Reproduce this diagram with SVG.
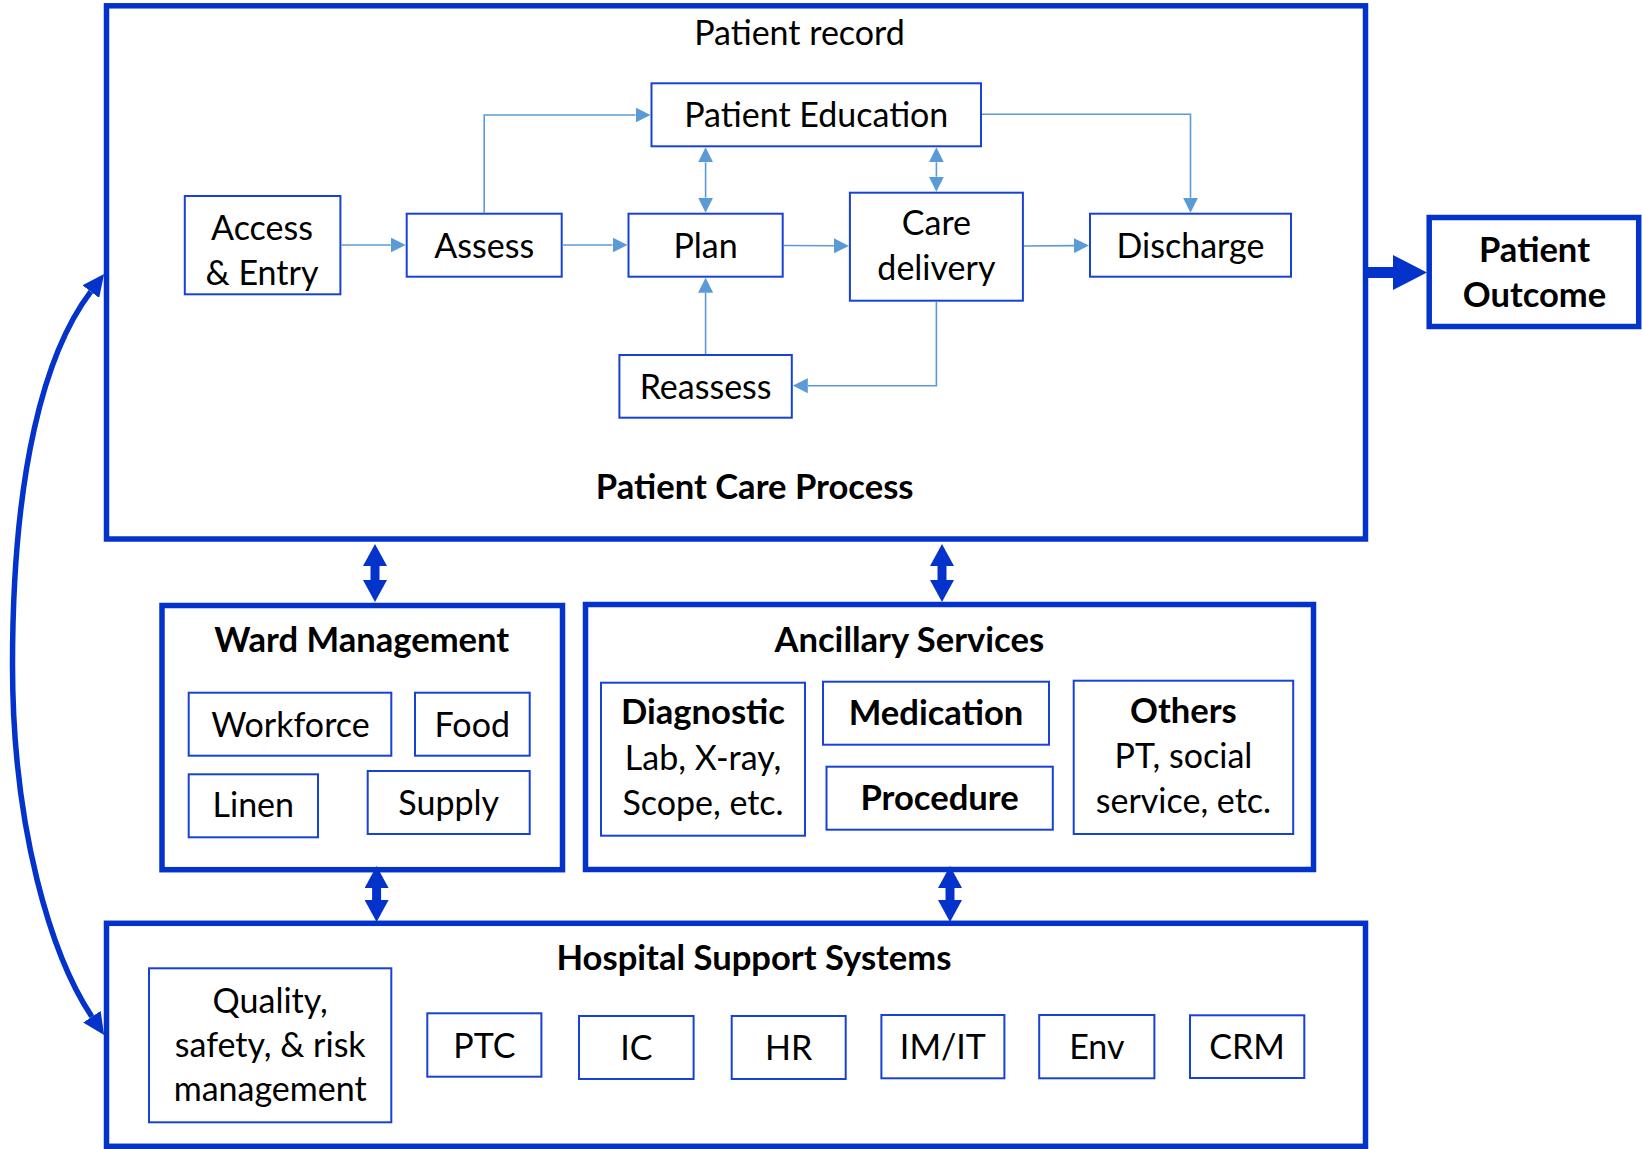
<svg xmlns="http://www.w3.org/2000/svg" width="1643" height="1149" viewBox="0 0 1643 1149">
<style>
.bg{fill:#fff}
.thick{fill:none;stroke:#0433CC;stroke-width:5.5}
.box{fill:#fff;stroke:#1742D4;stroke-width:2}
.t{font-family:Lato,"Open Sans",sans-serif;font-size:34px;fill:#000;text-anchor:middle}
.b{font-weight:bold;font-size:34.6px}
.thin{fill:none;stroke:#5B9BD5;stroke-width:1.6}
.tk{fill:none;stroke:#0433CC}
</style>
<defs>
<marker id="ah" markerUnits="userSpaceOnUse" markerWidth="15" markerHeight="15" viewBox="0 0 15 15" refX="0" refY="7.5" orient="auto-start-reverse"><path d="M0,0 L15,7.5 L0,15 z" fill="#5B9BD5"/></marker>
<marker id="dh" markerUnits="userSpaceOnUse" markerWidth="22" markerHeight="24" viewBox="0 0 22 24" refX="0" refY="12" orient="auto-start-reverse"><path d="M0,0 L22,12 L0,24 z" fill="#0433CC"/></marker>
<marker id="ch" markerUnits="userSpaceOnUse" markerWidth="22" markerHeight="21" viewBox="0 0 22 21" refX="0" refY="10.5" orient="auto-start-reverse"><path d="M0,0 L22,10.5 L0,21 z" fill="#0433CC"/></marker>
<marker id="bh" markerUnits="userSpaceOnUse" markerWidth="34" markerHeight="35" viewBox="0 0 34 35" refX="0" refY="17.5" orient="auto"><path d="M0,0 L34,17.5 L0,35 z" fill="#0433CC"/></marker>
</defs>
<rect class="bg" x="0" y="0" width="1643" height="1149"/>

<g id="patient-care-process">
<rect class="thick" x="106.5" y="5.8" width="1259" height="533.2"/>
<text class="t" x="799.5" y="45">Patient record</text>
<text class="t b" x="754.7" y="499.3">Patient Care Process</text>
</g>
<g id="access-entry"><rect class="box" x="184.8" y="196" width="155.6" height="98.3"/><text class="t" x="262" y="240">Access</text><text class="t" x="262" y="285">&amp; Entry</text></g>
<g id="assess"><rect class="box" x="406.7" y="213.7" width="155" height="63"/><text class="t" x="484.2" y="257.7">Assess</text></g>
<g id="plan"><rect class="box" x="628.5" y="213.7" width="154.2" height="63"/><text class="t" x="705.6" y="257.7">Plan</text></g>
<g id="care-delivery"><rect class="box" x="849.9" y="192.7" width="173" height="108"/><text class="t" x="936.4" y="235">Care</text><text class="t" x="936.4" y="280">delivery</text></g>
<g id="discharge"><rect class="box" x="1090" y="213.7" width="201" height="63"/><text class="t" x="1190.5" y="257.7">Discharge</text></g>
<g id="patient-education"><rect class="box" x="651.5" y="83.3" width="329.5" height="63"/><text class="t" x="816.3" y="126.7">Patient Education</text></g>
<g id="reassess"><rect class="box" x="619.4" y="355" width="172.4" height="62.7"/><text class="t" x="705.6" y="399">Reassess</text></g>

<g id="patient-outcome"><rect class="thick" x="1429.2" y="217.5" width="209.5" height="109"/><text class="t b" x="1534.5" y="261.7">Patient</text><text class="t b" x="1534.5" y="306.7">Outcome</text></g>

<g id="ward-management">
<rect class="thick" x="162" y="605.5" width="400.5" height="264.2"/>
<text class="t b" x="361.7" y="651.7">Ward Management</text>
</g>
<g id="workforce"><rect class="box" x="188.7" y="692.7" width="202.6" height="63"/><text class="t" x="290.5" y="737.3">Workforce</text></g>
<g id="food"><rect class="box" x="415" y="692.7" width="114.7" height="63"/><text class="t" x="472.3" y="737.3">Food</text></g>
<g id="linen"><rect class="box" x="188.7" y="774.3" width="129.3" height="63"/><text class="t" x="253.3" y="816.7">Linen</text></g>
<g id="supply"><rect class="box" x="367.7" y="771" width="162" height="63"/><text class="t" x="448.7" y="815">Supply</text></g>

<g id="ancillary-services">
<rect class="thick" x="585.5" y="604.5" width="728" height="265"/>
<text class="t b" x="909.3" y="651.7">Ancillary Services</text>
</g>
<g id="diagnostic"><rect class="box" x="601" y="682.7" width="204" height="153"/><text class="t b" x="703" y="724.3">Diagnostic</text><text class="t" x="703" y="770">Lab, X-ray,</text><text class="t" x="703" y="815">Scope, etc.</text></g>
<g id="medication"><rect class="box" x="823" y="681.7" width="226" height="63"/><text class="t b" x="936" y="725">Medication</text></g>
<g id="procedure"><rect class="box" x="826.5" y="766.7" width="226.3" height="63"/><text class="t b" x="939.6" y="810">Procedure</text></g>
<g id="others"><rect class="box" x="1073.7" y="680.7" width="219.5" height="153.3"/><text class="t b" x="1183.4" y="723.3">Others</text><text class="t" x="1183.4" y="768.3">PT, social</text><text class="t" x="1183.4" y="813.3">service, etc.</text></g>

<g id="hospital-support-systems">
<rect class="thick" x="106.5" y="923.3" width="1259" height="223"/>
<text class="t b" x="754" y="970">Hospital Support Systems</text>
</g>
<g id="quality"><rect class="box" x="149" y="968.3" width="242.3" height="154"/><text class="t" x="270.2" y="1013.3">Quality,</text><text class="t" x="270.2" y="1056.7">safety, &amp; risk</text><text class="t" x="270.2" y="1100.7">management</text></g>
<g id="ptc"><rect class="box" x="427.3" y="1013.3" width="114.1" height="63.4"/><text class="t" x="484.4" y="1058.3">PTC</text></g>
<g id="ic"><rect class="box" x="579" y="1016" width="114.6" height="63"/><text class="t" x="636.3" y="1060">IC</text></g>
<g id="hr"><rect class="box" x="731.7" y="1016" width="114" height="63"/><text class="t" x="788.7" y="1060">HR</text></g>
<g id="imit"><rect class="box" x="881.4" y="1015" width="123" height="63.3"/><text class="t" x="942.9" y="1059.3">IM/IT</text></g>
<g id="env"><rect class="box" x="1039.2" y="1015" width="115.2" height="63.3"/><text class="t" x="1096.8" y="1059.3">Env</text></g>
<g id="crm"><rect class="box" x="1190" y="1015.3" width="114.3" height="62.7"/><text class="t" x="1247" y="1059.3">CRM</text></g>

<g id="connectors">
<path class="thin" d="M341.4,245 L390.7,245" marker-end="url(#ah)"/>
<path class="thin" d="M562.6,245 L612.5,245" marker-end="url(#ah)"/>
<path class="thin" d="M484.2,212.7 L484.2,115 L635.5,115" marker-end="url(#ah)"/>
<path class="thin" d="M705.6,162.3 L705.6,197.7" marker-start="url(#ah)" marker-end="url(#ah)"/>
<path class="thin" d="M936.4,162.3 L936.4,176.7" marker-start="url(#ah)" marker-end="url(#ah)"/>
<path class="thin" d="M783.7,245.5 L833.9,245.8" marker-end="url(#ah)"/>
<path class="thin" d="M1023.8,246 L1074,245.6" marker-end="url(#ah)"/>
<path class="thin" d="M982,114.3 L1190.5,114.3 L1190.5,197.7" marker-end="url(#ah)"/>
<path class="thin" d="M936.4,301.7 L936.4,385.7 L807.8,385.7" marker-end="url(#ah)"/>
<path class="thin" d="M705.6,354 L705.6,292.7" marker-end="url(#ah)"/>

<path class="tk" stroke-width="11" d="M1368,272.5 L1393,272.5" marker-end="url(#bh)"/>
<path class="tk" stroke-width="9" d="M375,566 L375,580" marker-start="url(#dh)" marker-end="url(#dh)"/>
<path class="tk" stroke-width="9" d="M942,566 L942,580" marker-start="url(#dh)" marker-end="url(#dh)"/>
<path class="tk" stroke-width="9" d="M376.6,888 L376.6,900" marker-start="url(#dh)" marker-end="url(#dh)"/>
<path class="tk" stroke-width="9" d="M950,888 L950,900" marker-start="url(#dh)" marker-end="url(#dh)"/>
<path class="tk" stroke-width="5.5" d="M90.8,291.6 C45,352 12.5,470 12.5,665 C12.5,830 51.9,956.7 91.9,1016.7" marker-start="url(#ch)" marker-end="url(#ch)"/>
</g>
</svg>
